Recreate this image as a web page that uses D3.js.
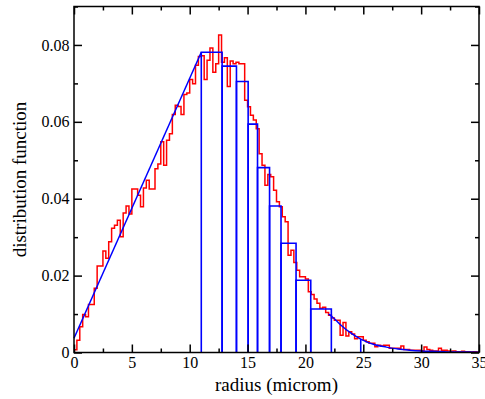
<!DOCTYPE html>
<html>
<head>
<meta charset="utf-8">
<script src="https://cdn.jsdelivr.net/npm/d3@7"></script>
<style>
  html, body { margin: 0; padding: 0; background: #fff; }
  svg { display: block; }
  text { font-family: "Liberation Serif", "Times New Roman", serif; }
</style>
</head>
<body>
<script>
// ---------- data ----------
const binWidth = 0.25;
const redValues = [
  0.0007, 0.0032, 0.0067, 0.0099, 0.0093, 0.0125, 0.0125, 0.0167, 0.0225, 0.0225,
  0.0264, 0.0245, 0.0288, 0.0323, 0.0331, 0.0344, 0.0301, 0.0363, 0.0381, 0.0360,
  0.0425, 0.0425, 0.0409, 0.0379, 0.0428, 0.0448, 0.0425, 0.0425, 0.0478, 0.0490,
  0.0548, 0.0487, 0.0552, 0.0569, 0.0619, 0.0643, 0.0640, 0.0619, 0.0671, 0.0675,
  0.0710, 0.0699, 0.0747, 0.0770, 0.0772, 0.0710, 0.0760, 0.0792, 0.0729, 0.0751,
  0.0826, 0.0755, 0.0767, 0.0692, 0.0758, 0.0751, 0.0755, 0.0751, 0.0751, 0.0656,
  0.0639, 0.0617, 0.0605, 0.0582, 0.0517, 0.0487, 0.0435, 0.0463, 0.0457, 0.0422,
  0.0392, 0.0379, 0.0353, 0.0340, 0.0253, 0.0266, 0.0234, 0.0214, 0.0197, 0.0197,
  0.0191, 0.0158, 0.0151, 0.0139, 0.0128, 0.0115, 0.0118, 0.0104, 0.0097, 0.0090,
  0.0084, 0.0084, 0.0045, 0.0078, 0.0043, 0.0054, 0.0048, 0.0036, 0.0041, 0.0041,
  0.0032, 0.0028, 0.0024, 0.0024, 0.0015, 0.0019, 0.0017, 0.0019, 0.0019, 0.0011,
  0.0011, 0.0011, 0.0011, 0.0017, 0.0008, 0.0008, 0.0006, 0.0006, 0.0006, 0.0006,
  0.0004, 0.0014, 0.0008, 0.0006, 0.0004, 0.0004, 0.0011, 0.0006, 0.0006, 0.0004,
  0.0003, 0.0004, 0.0002, 0.0002, 0.0003, 0.0002, 0.0002, 0.0001, 0.0002, 0.0001
];

const rampX = [0, 11.0];
const rampY = [0.0037, 0.0781];

const barEdges   = [11.0, 12.8, 14.04, 15.05, 15.86, 16.9, 17.89, 19.19, 20.46, 22.24];
const barHeights = [0.0781, 0.0745, 0.0705, 0.0594, 0.0481, 0.0381, 0.0284, 0.0188, 0.0113];

const tailX = [22.0, 22.24, 23, 24, 24.78, 26, 27, 28, 29, 30, 31, 32, 33, 34, 35];
const tailY = [0.0100, 0.0095, 0.0073, 0.0049, 0.0035, 0.0020, 0.0014, 0.0009, 0.0006, 0.0004, 0.0003, 0.0002, 0.0001, 0.0001, 0.00005];
const dropX = [24.78];

const xMajor = [0, 5, 10, 15, 20, 25, 30, 35];
const xMinor = [2.5, 7.5, 12.5, 17.5, 22.5, 27.5, 32.5];
const yMajor = [0, 0.02, 0.04, 0.06, 0.08];
const yMinor = [0.01, 0.03, 0.05, 0.07, 0.09];
const yTickLabels = ["0", "0.02", "0.04", "0.06", "0.08"];
const xTickLabels = ["0", "5", "10", "15", "20", "25", "30", "35"];

// ---------- layout ----------
const W = 485, H = 399;
const L = 74, R = 479, T = 6.5, B = 352.5;

const svg = d3.select("body").append("svg").attr("width", W).attr("height", H);

const x = d3.scaleLinear().domain([0, 35]).range([L, R]);
const y = d3.scaleLinear().domain([0, 0.09]).range([B, T]);

// red histogram
const redPts = redValues.map((v, i) => [i * binWidth, v]);
redPts.push([35, redValues[redValues.length - 1]]);
const stepLine = d3.line().x(d => x(d[0])).y(d => y(d[1])).curve(d3.curveStepAfter);
svg.append("path").attr("d", stepLine(redPts))
  .attr("fill", "none").attr("stroke", "#ff0000").attr("stroke-width", 1.5);

// blue ramp
const lin = d3.line().x(d => x(d[0])).y(d => y(d[1]));
svg.append("path").attr("d", lin(rampX.map((v, i) => [v, rampY[i]])))
  .attr("fill", "none").attr("stroke", "#0000ff").attr("stroke-width", 1.5);

// blue bars
barHeights.forEach((h, i) => {
  const p = d3.path();
  p.moveTo(x(barEdges[i]), y(0));
  p.lineTo(x(barEdges[i]), y(h));
  p.lineTo(x(barEdges[i + 1]), y(h));
  p.lineTo(x(barEdges[i + 1]), y(0));
  svg.append("path").attr("d", p.toString())
    .attr("fill", "none").attr("stroke", "#0000ff").attr("stroke-width", 1.6);
});

// blue tail
const tailLine = d3.line().x(d => x(d[0])).y(d => y(d[1])).curve(d3.curveMonotoneX);
const tailPts = tailX.map((v, i) => [v, tailY[i]]);
svg.append("path").attr("d", tailLine(tailPts))
  .attr("fill", "none").attr("stroke", "#0000ff").attr("stroke-width", 1.5);
dropX.forEach(dx => {
  const i = tailX.indexOf(dx);
  svg.append("line")
    .attr("x1", x(dx)).attr("x2", x(dx))
    .attr("y1", y(0)).attr("y2", y(tailY[i]))
    .attr("stroke", "#0000ff").attr("stroke-width", 1.6);
});

// ---------- axes ----------
function styleAxis(g) {
  g.select(".domain").remove();
  g.selectAll("line").attr("stroke", "#000").attr("stroke-width", 1.5);
  g.selectAll("text").attr("fill", "#000").style("font-size", "16px")
    .style("font-family", '"Liberation Serif", "Times New Roman", serif');
}

svg.append("g").attr("transform", `translate(0,${B})`)
  .call(d3.axisBottom(x).tickValues(xMajor).tickSizeInner(-8).tickSizeOuter(0)
    .tickPadding(4).tickFormat((d, i) => xTickLabels[i]))
  .call(styleAxis);
svg.append("g").attr("transform", `translate(0,${B})`)
  .call(d3.axisBottom(x).tickValues(xMinor).tickSizeInner(-4).tickSizeOuter(0).tickFormat(""))
  .call(styleAxis);
svg.append("g").attr("transform", `translate(0,${T})`)
  .call(d3.axisTop(x).tickValues(xMajor).tickSizeInner(-8).tickSizeOuter(0).tickFormat(""))
  .call(styleAxis);
svg.append("g").attr("transform", `translate(0,${T})`)
  .call(d3.axisTop(x).tickValues(xMinor).tickSizeInner(-4).tickSizeOuter(0).tickFormat(""))
  .call(styleAxis);

svg.append("g").attr("transform", `translate(${L},0)`)
  .call(d3.axisLeft(y).tickValues(yMajor).tickSizeInner(-8).tickSizeOuter(0)
    .tickPadding(4.5).tickFormat((d, i) => yTickLabels[i]))
  .call(styleAxis);
svg.append("g").attr("transform", `translate(${L},0)`)
  .call(d3.axisLeft(y).tickValues(yMinor).tickSizeInner(-4).tickSizeOuter(0).tickFormat(""))
  .call(styleAxis);
svg.append("g").attr("transform", `translate(${R},0)`)
  .call(d3.axisRight(y).tickValues(yMajor).tickSizeInner(-8).tickSizeOuter(0).tickFormat(""))
  .call(styleAxis);
svg.append("g").attr("transform", `translate(${R},0)`)
  .call(d3.axisRight(y).tickValues(yMinor).tickSizeInner(-4).tickSizeOuter(0).tickFormat(""))
  .call(styleAxis);

// frame
svg.append("rect").attr("x", L).attr("y", T).attr("width", R - L).attr("height", B - T)
  .attr("fill", "none").attr("stroke", "#000").attr("stroke-width", 1.5);

// titles
svg.append("text").attr("x", (L + R) / 2).attr("y", 391)
  .attr("text-anchor", "middle").style("font-size", "19px").attr("fill", "#000")
  .text("radius (microm)");
svg.append("text")
  .attr("transform", `translate(26,${(T + B) / 2}) rotate(-90)`)
  .attr("text-anchor", "middle").style("font-size", "19px").attr("fill", "#000")
  .text("distribution function");
</script>
</body>
</html>
